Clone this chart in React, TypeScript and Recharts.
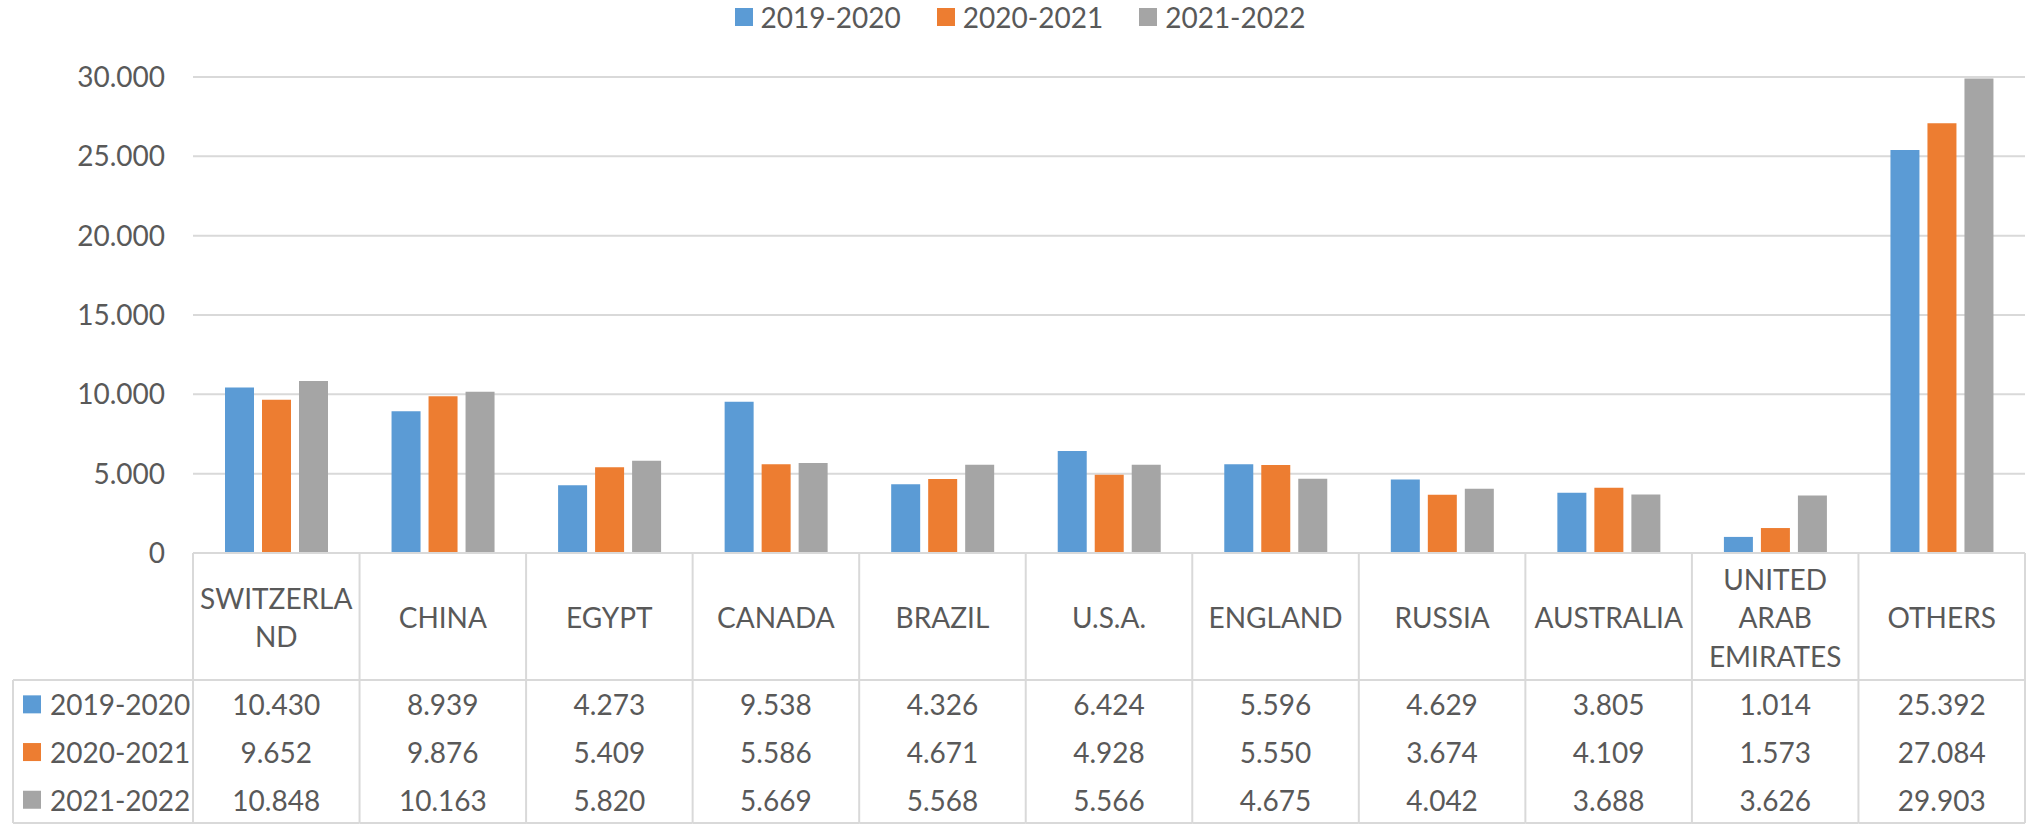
import React from 'react';
import { BarChart, Bar, XAxis, YAxis, CartesianGrid, Legend } from 'recharts';

const categories = [
  'SWITZERLAND', 'CHINA', 'EGYPT', 'CANADA', 'BRAZIL', 'U.S.A.',
  'ENGLAND', 'RUSSIA', 'AUSTRALIA', 'UNITED ARAB EMIRATES', 'OTHERS',
];
const seriesNames = ['2019-2020', '2020-2021', '2021-2022'];
const values2019_2020 = [10430, 8939, 4273, 9538, 4326, 6424, 5596, 4629, 3805, 1014, 25392];
const values2020_2021 = [9652, 9876, 5409, 5586, 4671, 4928, 5550, 3674, 4109, 1573, 27084];
const values2021_2022 = [10848, 10163, 5820, 5669, 5568, 5566, 4675, 4042, 3688, 3626, 29903];
const yTicks = [0, 5000, 10000, 15000, 20000, 25000, 30000];
const colors = ['#5B9BD5', '#ED7D31', '#A5A5A5'];

const seriesValues = [values2019_2020, values2020_2021, values2021_2022];
const data = categories.map((c, i) => ({
  name: c,
  s0: values2019_2020[i],
  s1: values2020_2021[i],
  s2: values2021_2022[i],
}));

const W = 2040;
const H = 824;
const FONT = 'Lato, "Open Sans", sans-serif';
const TEXT = '#595959';
const LINE = '#D9D9D9';
const LEGEND_H = 34;
const margin = { top: 77 - LEGEND_H, right: 15, left: 0, bottom: 0 };
const Y_AXIS_W = 193;
const X_AXIS_H = H - 553 - margin.bottom;
const plotW = W - margin.left - margin.right - Y_AXIS_W;
const band = plotW / categories.length;
const axisY = H - margin.bottom - X_AXIS_H;
const headerH = 127;
const rowH = 47.7;
const tableBottom = axisY + headerH + rowH * 3;

const fmt = (n: number) => String(n).replace(/\B(?=(\d{3})+(?!\d))/g, '.');

const wrapLabel = (label: string, maxChars = 9) => {
  const words = label.split(' ');
  const lines: string[] = [];
  let cur = '';
  for (const w of words) {
    const cand = cur ? cur + ' ' + w : w;
    if (cand.length <= maxChars) {
      cur = cand;
    } else {
      if (cur) lines.push(cur);
      let rest = w;
      while (rest.length > maxChars) {
        lines.push(rest.slice(0, maxChars));
        rest = rest.slice(maxChars);
      }
      cur = rest;
    }
  }
  if (cur) lines.push(cur);
  return lines;
};

const TableTick = (props: any) => {
  const { x, payload } = props;
  const i: number = payload.index;
  const left = x - band / 2;
  const right = x + band / 2;
  const lines = wrapLabel(categories[i]);
  const lh = 38.5;
  const headerCenter = axisY + 64;
  const firstY = headerCenter - ((lines.length - 1) * lh) / 2;
  const rowCenter = (r: number) => axisY + headerH + rowH * r + rowH / 2 + 0.5;
  const lineProps = { stroke: LINE, strokeWidth: 2 };
  return (
    <g>
      <line x1={left} y1={axisY} x2={left} y2={tableBottom} {...lineProps} />
      {i === categories.length - 1 && (
        <line x1={right} y1={axisY} x2={right} y2={tableBottom} {...lineProps} />
      )}
      <line x1={left} y1={axisY + headerH} x2={right} y2={axisY + headerH} {...lineProps} />
      <line x1={left} y1={tableBottom} x2={right} y2={tableBottom} {...lineProps} />
      <text
        textAnchor="middle"
        fill={TEXT}
        fontSize={28}
        fontFamily={FONT}
      >
        {lines.map((l, k) => (
          <tspan key={k} x={x} y={firstY + k * lh} dominantBaseline="central">
            {l}
          </tspan>
        ))}
      </text>
      {seriesValues.map((vals, r) => (
        <text
          key={r}
          x={x}
          y={rowCenter(r)}
          textAnchor="middle"
          dominantBaseline="central"
          fill={TEXT}
          fontSize={28}
          fontFamily={FONT}
        >
          {fmt(vals[i])}
        </text>
      ))}
      {i === 0 && (
        <g>
          <line x1={13} y1={axisY + headerH} x2={left} y2={axisY + headerH} {...lineProps} />
          <line x1={13} y1={tableBottom} x2={left} y2={tableBottom} {...lineProps} />
          <line x1={13} y1={axisY + headerH} x2={13} y2={tableBottom} {...lineProps} />
          {seriesNames.map((n, r) => (
            <g key={n}>
              <rect x={23} y={rowCenter(r) - 9} width={18} height={18} fill={colors[r]} />
              <text
                x={50}
                y={rowCenter(r)}
                dominantBaseline="central"
                fill={TEXT}
                fontSize={28}
                fontFamily={FONT}
              >
                {n}
              </text>
            </g>
          ))}
        </g>
      )}
    </g>
  );
};

const LegendContent = (props: any) => {
  const payload = props.payload || [];
  return (
    <div
      style={{
        display: 'flex',
        justifyContent: 'center',
        alignItems: 'center',
        height: LEGEND_H,
        width: W,
        fontFamily: FONT,
        fontSize: 28,
        color: TEXT,
      }}
    >
      {payload.map((p: any, k: number) => (
        <div
          key={k}
          style={{ display: 'flex', alignItems: 'center', marginLeft: k ? 36 : 0 }}
        >
          <div style={{ width: 18, height: 18, background: p.color, marginRight: 8 }} />
          <span style={{ lineHeight: '34px' }}>{p.value}</span>
        </div>
      ))}
    </div>
  );
};

export default function App() {
  return (
    <div style={{ position: 'absolute', left: 0, top: 0, width: W, height: H, background: '#fff', fontFamily: FONT }}>
      <BarChart width={W} height={H} data={data} margin={margin} barSize={29} barGap={8}>
        <CartesianGrid vertical={false} stroke={LINE} strokeWidth={2} />
        <Legend
          verticalAlign="top"
          align="center"
          content={<LegendContent />}
          wrapperStyle={{ top: 0, left: 0, width: W, height: LEGEND_H }}
        />
        <XAxis
          dataKey="name"
          interval={0}
          height={X_AXIS_H}
          tickLine={false}
          tickSize={0}
          tickMargin={0}
          axisLine={{ stroke: LINE, strokeWidth: 2 }}
          tick={<TableTick />}
        />
        <YAxis
          width={Y_AXIS_W}
          domain={[0, 30000]}
          ticks={yTicks}
          axisLine={false}
          tickLine={false}
          tickSize={0}
          tickMargin={28}
          tickFormatter={(v: number) => fmt(v)}
          tick={{ fill: TEXT, fontSize: 28, fontFamily: FONT }}
        />
        {seriesNames.map((n, k) => (
          <Bar key={n} dataKey={`s${k}`} name={n} fill={colors[k]} isAnimationActive={false} />
        ))}
      </BarChart>
    </div>
  );
}
